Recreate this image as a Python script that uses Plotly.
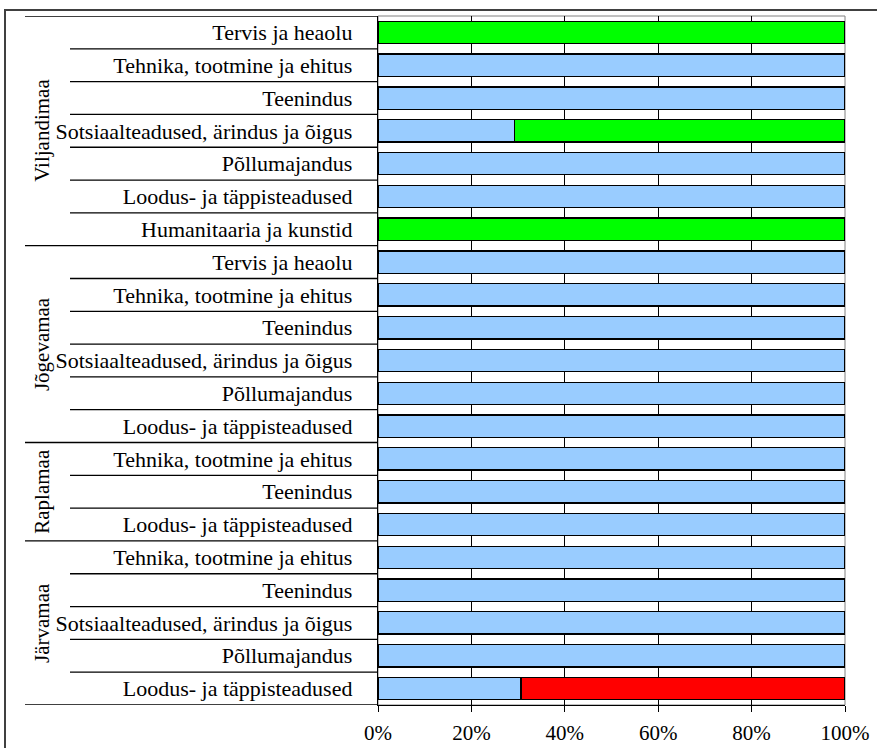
import plotly.graph_objects as go

regions = ["Viljandimaa"] * 7 + ["Jõgevamaa"] * 6 + ["Raplamaa"] * 3 + ["Järvamaa"] * 5
fields = [
    "Tervis ja heaolu", "Tehnika, tootmine ja ehitus", "Teenindus",
    "Sotsiaalteadused, ärindus ja õigus", "Põllumajandus",
    "Loodus- ja täppisteadused", "Humanitaaria ja kunstid",
    "Tervis ja heaolu", "Tehnika, tootmine ja ehitus", "Teenindus",
    "Sotsiaalteadused, ärindus ja õigus", "Põllumajandus",
    "Loodus- ja täppisteadused",
    "Tehnika, tootmine ja ehitus", "Teenindus", "Loodus- ja täppisteadused",
    "Tehnika, tootmine ja ehitus", "Teenindus",
    "Sotsiaalteadused, ärindus ja õigus", "Põllumajandus",
    "Loodus- ja täppisteadused",
]
blue = [0, 100, 100, 29.3, 100, 100, 0,
        100, 100, 100, 100, 100, 100,
        100, 100, 100,
        100, 100, 100, 100, 30.6]
green = [100, 0, 0, 70.7, 0, 0, 100,
         0, 0, 0, 0, 0, 0,
         0, 0, 0,
         0, 0, 0, 0, 0]
red = [0, 0, 0, 0, 0, 0, 0,
       0, 0, 0, 0, 0, 0,
       0, 0, 0,
       0, 0, 0, 0, 69.4]
xticks = [0, 20, 40, 60, 80, 100]
xtick_text = ["0%", "20%", "40%", "60%", "80%", "100%"]

FONT = "Liberation Serif"
ypos = list(range(len(fields)))

fig = go.Figure()
for vals, col, name in [(blue, "#99CCFF", "blue"), (green, "#00FF00", "green"), (red, "#FF0000", "red")]:
    fig.add_trace(go.Bar(
        y=ypos, x=vals, orientation="h", name=name, width=0.68,
        marker=dict(color=col, line=dict(color="black", width=1.3)),
        showlegend=False, hoverinfo="x+y",
    ))

W, H = 877, 748
ml, mr, mt, mb = 378, 32, 16, 43
pw = W - ml - mr
ph = H - mt - mb

def px2x(px):  # page pixel -> paper x
    return (px - ml) / pw

def px2y(py):  # page pixel -> paper y
    return (H - mb - py) / ph

shapes = []
# outer border
shapes.append(dict(type="rect", xref="paper", yref="paper",
                   x0=px2x(5), x1=px2x(W + 20), y0=px2y(H + 20), y1=px2y(10),
                   line=dict(color="#404040", width=2), layer="below"))
# plot area border (gray)
shapes.append(dict(type="rect", xref="paper", yref="paper",
                   x0=0, x1=1, y0=0, y1=1,
                   line=dict(color="#808080", width=1), layer="below"))

# separators
n = len(fields)
for i in range(n + 1):
    yb = i - 0.5
    if i == 0 or i == n or regions[i] != regions[i - 1]:
        x0 = px2x(25)
    else:
        x0 = px2x(70)
    shapes.append(dict(type="line", xref="paper", yref="y",
                       x0=x0, x1=0, y0=yb, y1=yb,
                       line=dict(color="black", width=1.3)))

annotations = []
groups = []
for i, r in enumerate(regions):
    if not groups or groups[-1][0] != r:
        groups.append([r, i, i])
    else:
        groups[-1][2] = i
for r, a, b in groups:
    annotations.append(dict(text=r, xref="paper", yref="y", x=px2x(42), y=(a + b) / 2,
                            textangle=-90, showarrow=False,
                            font=dict(family=FONT, size=21, color="black"),
                            xanchor="center", yanchor="middle"))

fig.update_layout(
    width=W, height=H,
    margin=dict(l=ml, r=mr, t=mt, b=mb, pad=0, autoexpand=False),
    barmode="stack",
    plot_bgcolor="white", paper_bgcolor="white",
    font=dict(family=FONT, size=21, color="black"),
    shapes=shapes, annotations=annotations,
    xaxis=dict(range=[0, 100], tickvals=xticks, ticktext=xtick_text,
               showgrid=True, gridcolor="black", gridwidth=1,
               ticks="outside", ticklen=6, tickcolor="black", tickwidth=1,
               showline=True, linecolor="black", linewidth=1.3,
               zeroline=False, ticklabelstandoff=3, automargin=False,
               tickfont=dict(family=FONT, size=21, color="black"), fixedrange=True),
    yaxis=dict(range=[n - 0.5, -0.5], tickvals=ypos, ticktext=fields,
               showgrid=False, zeroline=False, ticks="",
               showline=True, linecolor="black", linewidth=1.3,
               ticklabelstandoff=20, automargin=False,
               tickfont=dict(family=FONT, size=22, color="black"), fixedrange=True),
)

fig.write_html("out.html", config={"displayModeBar": False},
               post_script="document.body.style.margin='0px';document.body.style.overflow='hidden';")
